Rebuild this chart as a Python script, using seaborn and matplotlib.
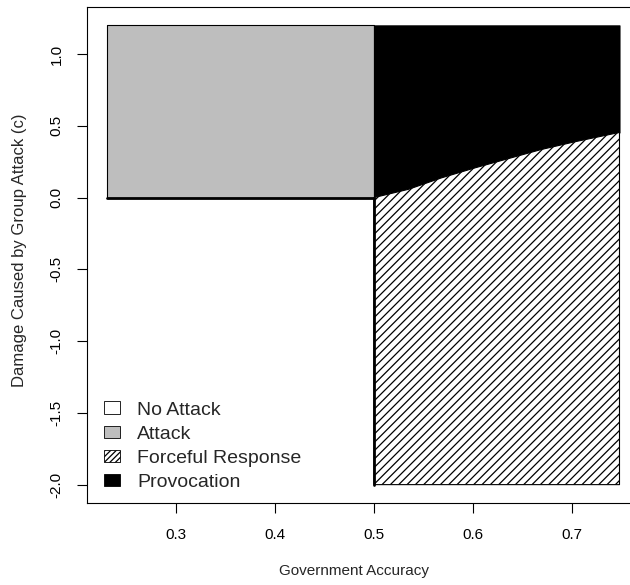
import numpy as np
import pandas as pd
import matplotlib
matplotlib.use("Agg")
import matplotlib.pyplot as plt
from matplotlib.patches import Patch
import seaborn as sns

# Region bounds (government accuracy p, damage c)
p_min, p_mid, p_max = 0.23, 0.50, 0.748
c_min, c_zero, c_max = -2.0, 0.0, 1.2

# Boundary between Forceful Response and Provocation for p >= 0.5
boundary_p = [0.500, 0.535, 0.568, 0.602, 0.636, 0.669, 0.703, 0.748]
boundary_c = [0.000, 0.058, 0.137, 0.207, 0.272, 0.335, 0.389, 0.454]

x_ticks = [0.3, 0.4, 0.5, 0.6, 0.7]
y_ticks = [-2.0, -1.5, -1.0, -0.5, 0.0, 0.5, 1.0]
legend_labels = ["No Attack", "Attack", "Forceful Response", "Provocation"]

sns.set_theme(style="white")
plt.rcParams["font.family"] = ["Liberation Sans", "DejaVu Sans"]
plt.rcParams["hatch.linewidth"] = 0.9

W, H = 630, 585
fig = plt.figure(figsize=(W / 100, H / 100), dpi=100)
ax_left, ax_right, ax_top, ax_bottom = 87, 639, 7, 503
ax_w, ax_h = ax_right - ax_left, ax_bottom - ax_top
ax = fig.add_axes([ax_left / W, 1 - ax_bottom / H, ax_w / W, ax_h / H])

# Attack region: p < 0.5, c > 0
ax.fill_between([p_min, p_mid], c_zero, c_max, facecolor="#bebebe",
                edgecolor="black", linewidth=0.8, zorder=2)

bp = np.array(boundary_p)
bc = np.array(boundary_c)
# Provocation region above the boundary
ax.fill_between(bp, bc, c_max, facecolor="black", edgecolor="black",
                linewidth=0.8, zorder=2)
# Forceful response region below the boundary
ax.fill_between(bp, c_min, bc, facecolor="white", edgecolor="black",
                hatch="////", linewidth=0.8, zorder=2)

# Thick boundary lines
edges = pd.DataFrame({
    "p": [p_min, p_mid, p_mid, p_mid],
    "c": [c_zero, c_zero, c_zero, c_min],
    "seg": ["h", "h", "v", "v"],
})
sns.lineplot(data=edges, x="p", y="c", units="seg", estimator=None,
             color="black", linewidth=2.0, sort=False, ax=ax, zorder=3)

ax.set_xlim(0.2101, 0.7677)
ax.set_ylim(-2.128, 1.328)
ax.set_xticks(x_ticks)
ax.set_xticklabels([f"{v:.1f}" for v in x_ticks], fontsize=11)
ax.set_yticks(y_ticks)
ax.set_yticklabels([f"{v:.1f}" for v in y_ticks], fontsize=11,
                   rotation=90, va="center")
ax.tick_params(axis="both", direction="out", length=7.2, width=0.8,
               colors="black", bottom=True, left=True)
ax.tick_params(axis="x", pad=10.5)
ax.tick_params(axis="y", pad=9.5)
for s in ax.spines.values():
    s.set_color("black")
    s.set_linewidth(0.8)

ax.set_xlabel("Government Accuracy", fontsize=11)
ax.set_ylabel("Damage Caused by Group Attack (c)", fontsize=12)
ax.xaxis.set_label_coords((354 - ax_left) / ax_w, -(571 - ax_bottom) / ax_h)
ax.yaxis.set_label_coords(-(ax_left - 20) / ax_w, (ax_bottom - 250) / ax_h)
ax.xaxis.label.set_va("center")
ax.yaxis.label.set_va("center")

handles = [
    Patch(facecolor="white", edgecolor="black", linewidth=0.6),
    Patch(facecolor="#bebebe", edgecolor="black", linewidth=0.6),
    Patch(facecolor="white", edgecolor="black", hatch="//////", linewidth=0.6),
    Patch(facecolor="black", edgecolor="black", linewidth=0.6),
]
fs = 14
ax.legend(handles, legend_labels, loc="lower left",
          bbox_to_anchor=((104 - ax_left) / ax_w, (ax_bottom - 491) / ax_h),
          frameon=False, fontsize=fs, handlelength=16 / 19.4,
          handleheight=12 / 19.4, handletextpad=17 / 19.4,
          labelspacing=0.36, borderaxespad=0, borderpad=0)

fig.savefig("out.png", dpi=100)
